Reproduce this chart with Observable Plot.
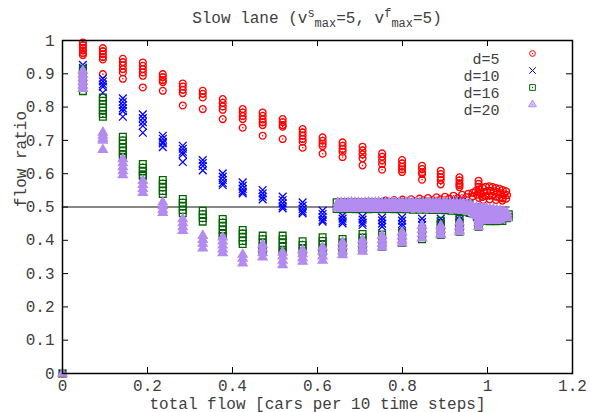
<!DOCTYPE html>
<html><head><meta charset="utf-8">
<script src="https://cdn.jsdelivr.net/npm/d3@7"></script>
<script src="https://cdn.jsdelivr.net/npm/@observablehq/plot@0.6"></script>
<style>
body{margin:0;background:#fff;}
#fig{position:relative;width:590px;height:412px;font-family:"Liberation Mono","DejaVu Sans Mono",monospace;color:#404040;}
#fig svg{position:absolute;left:0;top:0;z-index:1;}
#title{position:absolute;left:62px;width:510px;top:9px;text-align:center;font-size:16px;line-height:20px;white-space:nowrap;z-index:2;}
#title sup,#title sub{font-size:12px;line-height:0;}
</style></head><body>
<div id="fig"><div id="title">Slow lane (v<sup>s</sup><sub>max</sub>=5, v<sup>f</sup><sub>max</sub>=5)</div></div>
<script>
const xTicks = [0, 0.2, 0.4, 0.6, 0.8, 1, 1.2];
const yTicks = [0, 0.1, 0.2, 0.3, 0.4, 0.5, 0.6, 0.7, 0.8, 0.9, 1];
const xLabel = "total flow [cars per 10 time steps]";
const yLabel = "flow ratio";
const seriesNames = ["d=5", "d=10", "d=16", "d=20"];
const refX = [0, 1.05];
const refY = [0.5, 0.5];
const origin = [0, 0];
const colX = [0.048, 0.095, 0.142, 0.189, 0.236, 0.283, 0.330, 0.377, 0.424, 0.471, 0.518, 0.565, 0.612, 0.659, 0.706, 0.752, 0.799, 0.846, 0.890, 0.934, 0.979];

const d5Cols = [
[0.994,0.986,0.978,0.970,0.962,0.956],
[0.977,0.968,0.959,0.950,0.943,0.899],
[0.945,0.935,0.925,0.914,0.904,0.885],
[0.934,0.924,0.914,0.904,0.894,0.859],
[0.899,0.890,0.881,0.875,0.849],
[0.871,0.862,0.852,0.842,0.805],
[0.849,0.840,0.829,0.794],
[0.824,0.813,0.802,0.792,0.764],
[0.794,0.784,0.773,0.764,0.738],
[0.784,0.774,0.763,0.754,0.746,0.714],
[0.764,0.755,0.746,0.741,0.704],
[0.734,0.724,0.714,0.704,0.696,0.678],
[0.709,0.699,0.690,0.683,0.660],
[0.694,0.684,0.674,0.666,0.650],
[0.681,0.670,0.658,0.646,0.625],
[0.661,0.651,0.640,0.629,0.612],
[0.641,0.631,0.621,0.613,0.605],
[0.624,0.614,0.604,0.599,0.582],
[0.609,0.599,0.589,0.581,0.568],
[0.589,0.580,0.571,0.566,0.560],
[0.579,0.570,0.561,0.545]
];
const d10Cols = [
[0.927,0.918],
[0.886,0.877,0.868,0.861,0.843],
[0.826,0.816,0.806,0.796,0.788,0.771],
[0.778,0.767,0.755,0.744,0.723],
[0.714,0.705,0.696,0.691,0.680],
[0.684,0.675,0.666,0.659,0.635],
[0.641,0.632,0.623,0.610],
[0.601,0.591,0.581,0.572,0.566],
[0.574,0.564,0.554,0.546,0.541],
[0.551,0.541,0.531,0.523],
[0.531,0.521,0.511,0.502,0.496],
[0.514,0.504,0.494,0.486,0.481],
[0.489,0.479,0.469,0.461,0.456],
[0.474,0.465,0.457,0.451],
[0.471,0.462,0.453,0.446],
[0.469,0.460,0.450,0.441],
[0.469,0.459,0.449,0.441],
[0.465,0.455,0.446],
[0.465,0.456,0.447],
[0.471,0.462,0.453],
[0.470,0.460]
];
const d16Cols = [
[0.914,0.903,0.892,0.880,0.869,0.858,0.848],
[0.829,0.819,0.809,0.799,0.789,0.779,0.771],
[0.711,0.700,0.690,0.679,0.668,0.658,0.651],
[0.629,0.618,0.607,0.597,0.593],
[0.581,0.570,0.559,0.548,0.539],
[0.524,0.513,0.502,0.491,0.481],
[0.489,0.478,0.467,0.456],
[0.464,0.453,0.442,0.431,0.420,0.413],
[0.431,0.420,0.409,0.398,0.389],
[0.414,0.403,0.392,0.381,0.371,0.366],
[0.414,0.403,0.392,0.381,0.371,0.366],
[0.397,0.386,0.375,0.366],
[0.409,0.398,0.387,0.376,0.366],
[0.404,0.393,0.382,0.372,0.366],
[0.419,0.408,0.397,0.386,0.374],
[0.417,0.406,0.395,0.385,0.381],
[0.424,0.413,0.402,0.392],
[0.434,0.423,0.412,0.403],
[0.459,0.448,0.437,0.426,0.416],
[0.465,0.454,0.443,0.432,0.426],
[0.469,0.458,0.447,0.441]
];
const d20Cols = [
[0.909,0.898,0.887,0.876,0.865,0.855],
[0.724,0.715,0.706,0.700,0.672],
[0.644,0.632,0.620,0.608,0.596],
[0.579,0.567,0.555,0.543],
[0.514,0.503,0.492,0.483],
[0.464,0.452,0.440,0.429],
[0.414,0.402,0.390,0.376],
[0.409,0.397,0.385,0.373,0.362],
[0.357,0.345,0.331],
[0.387,0.375,0.362,0.349],
[0.364,0.352,0.339,0.326],
[0.371,0.359,0.347,0.336],
[0.379,0.366,0.352,0.339],
[0.394,0.381,0.368,0.356],
[0.401,0.389,0.377,0.366],
[0.414,0.402,0.390,0.379],
[0.424,0.412,0.400,0.391],
[0.444,0.432,0.419,0.406],
[0.444,0.432,0.420,0.416],
[0.454,0.442,0.431,0.426],
[0.464,0.453,0.441]
];

// dense high-flow band (x, y pairs)
const d5Band = [
[0.650,0.505],[0.670,0.507],[0.690,0.508],[0.710,0.509],[0.730,0.511],[0.750,0.512],[0.770,0.514],[0.790,0.515],
[0.810,0.516],[0.830,0.518],[0.850,0.520],[0.870,0.521],[0.890,0.523],[0.910,0.525],[0.930,0.527],[0.950,0.529],
[0.965,0.532],[0.760,0.519],[0.780,0.521],[0.800,0.522],[0.820,0.523],[0.840,0.525],[0.860,0.527],[0.880,0.529],
[0.900,0.531],[0.920,0.534],[0.940,0.537],[0.955,0.540],[0.965,0.543],
[0.972,0.548],[0.980,0.553],[0.988,0.558],[0.996,0.561],[1.004,0.562],[1.012,0.560],[1.020,0.557],[1.028,0.555],
[1.036,0.551],[1.044,0.547],
[0.975,0.537],[0.983,0.541],[0.991,0.545],[0.999,0.548],[1.007,0.549],[1.015,0.547],[1.023,0.545],[1.031,0.541],
[1.039,0.538],[1.046,0.536],
[0.980,0.527],[0.988,0.530],[0.996,0.533],[1.004,0.535],[1.012,0.534],[1.020,0.531],[1.028,0.528],[1.036,0.526],
[1.044,0.525],[0.990,0.521],[1.005,0.523],[1.020,0.521],[1.035,0.519]
];
const d10Band = [
[0.652,0.506],[0.655,0.494],[0.700,0.508],[0.750,0.510],[0.800,0.511],[0.850,0.512],[0.900,0.514],
[0.925,0.518],[0.940,0.516],[0.970,0.500],[0.990,0.490],[1.010,0.485]
];
const d16Band = [
[0.645,0.514],[0.660,0.515],[0.675,0.514],[0.690,0.515],[0.705,0.514],[0.720,0.515],[0.735,0.514],[0.750,0.515],
[0.765,0.514],[0.780,0.515],[0.795,0.514],[0.810,0.515],[0.825,0.514],[0.840,0.515],[0.855,0.514],[0.870,0.514],
[0.885,0.513],[0.900,0.513],[0.915,0.512],[0.930,0.511],[0.945,0.510],[0.958,0.508],
[0.645,0.494],[0.660,0.493],[0.675,0.494],[0.690,0.493],[0.705,0.494],[0.720,0.493],[0.735,0.494],[0.750,0.493],
[0.765,0.494],[0.780,0.493],[0.795,0.493],[0.810,0.493],[0.825,0.492],[0.840,0.492],[0.855,0.492],[0.870,0.491],
[0.885,0.491],[0.900,0.490],[0.915,0.489],[0.930,0.488],[0.945,0.486],[0.958,0.482],
[0.970,0.498],[0.985,0.485],[1.000,0.472],[1.015,0.464],[1.030,0.461],[1.045,0.466],[1.050,0.478],
[0.975,0.470],[0.990,0.459],[1.005,0.457],[1.020,0.457],[1.035,0.458],[1.050,0.469]
];
const d20Band = [
[0.648,0.513],[0.656,0.513],[0.664,0.512],[0.672,0.513],[0.680,0.514],[0.688,0.513],[0.696,0.513],[0.704,0.512],
[0.712,0.513],[0.720,0.514],[0.728,0.513],[0.736,0.513],[0.744,0.514],[0.752,0.512],[0.760,0.513],[0.768,0.513],
[0.776,0.514],[0.784,0.513],[0.792,0.513],[0.800,0.512],[0.808,0.513],[0.816,0.514],[0.824,0.513],[0.832,0.513],
[0.840,0.512],[0.848,0.513],[0.856,0.513],[0.864,0.514],[0.872,0.513],[0.880,0.512],[0.888,0.512],[0.896,0.513],
[0.904,0.512],[0.912,0.512],[0.920,0.511],[0.928,0.511],[0.936,0.510],[0.944,0.509],[0.952,0.508],[0.960,0.507],
[0.648,0.504],[0.660,0.505],[0.672,0.504],[0.684,0.505],[0.696,0.504],[0.708,0.505],[0.720,0.504],[0.732,0.505],
[0.744,0.504],[0.756,0.505],[0.768,0.504],[0.780,0.505],[0.792,0.504],[0.804,0.505],[0.816,0.504],[0.828,0.504],
[0.840,0.503],[0.852,0.504],[0.864,0.503],[0.876,0.503],[0.888,0.502],[0.900,0.502],[0.912,0.501],[0.924,0.501],
[0.936,0.500],[0.948,0.499],[0.958,0.498],
[0.648,0.496],[0.656,0.495],[0.664,0.496],[0.672,0.496],[0.680,0.495],[0.688,0.496],[0.696,0.496],[0.704,0.495],
[0.712,0.496],[0.720,0.495],[0.728,0.496],[0.736,0.496],[0.744,0.495],[0.752,0.496],[0.760,0.495],[0.768,0.496],
[0.776,0.495],[0.784,0.495],[0.792,0.496],[0.800,0.495],[0.808,0.495],[0.816,0.494],[0.824,0.495],[0.832,0.494],
[0.840,0.494],[0.848,0.494],[0.856,0.494],[0.864,0.493],[0.872,0.493],[0.880,0.493],[0.888,0.493],[0.896,0.492],
[0.904,0.492],[0.912,0.492],[0.920,0.491],[0.928,0.491],[0.936,0.490],[0.944,0.489],[0.952,0.488],[0.960,0.486],
[0.966,0.500],[0.974,0.499],[0.982,0.498],[0.990,0.497],[0.998,0.496],[1.006,0.494],[1.014,0.493],[1.022,0.491],
[1.030,0.489],[1.038,0.486],[1.046,0.482],
[0.966,0.488],[0.974,0.486],[0.982,0.485],[0.990,0.484],[0.998,0.483],[1.006,0.482],[1.014,0.481],[1.022,0.480],
[1.030,0.479],[1.038,0.477],[1.046,0.474],
[0.968,0.476],[0.976,0.472],[0.984,0.469],[0.992,0.467],[1.000,0.466],[1.008,0.465],[1.016,0.465],[1.024,0.465],
[1.032,0.466],[1.040,0.467],[1.046,0.468],
[0.980,0.461],[0.990,0.460],[1.000,0.459],[1.010,0.459],[1.020,0.459],[1.030,0.460]
];

const colsBy = [d5Cols, d10Cols, d16Cols, d20Cols];
const bandBy = [d5Band, d10Band, d16Band, d20Band];
const rows = [];
seriesNames.forEach((name, i) => {
  rows.push({series: name, x: origin[0], y: origin[1]});
  colsBy[i].forEach((ys, k) => ys.forEach(y => rows.push({series: name, x: colX[k], y})));
  bandBy[i].forEach(([x, y]) => rows.push({series: name, x, y}));
});

const styles = [
  {color: "#ff0000", symbol: "circle", r: 3.4, sw: 1.3, fill: "none", center: true},
  {color: "#0000ff", symbol: "times", r: 3.6, sw: 1.3, fill: "none", center: false},
  {color: "#006400", symbol: "square", r: 3.8, sw: 1.3, fill: "none", center: true},
  {color: "#b48cf0", symbol: "triangle", r: 3.4, sw: 1.2, fill: "#b48cf0", center: false}
];

const W = 590, H = 412, mL = 62, mR = 18, mT = 40, mB = 39;
const innerW = W - mL - mR, innerH = H - mT - mB;

const seriesMarks = [];
seriesNames.forEach((name, i) => {
  const s = styles[i];
  const data = rows.filter(d => d.series === name);
  seriesMarks.push(Plot.dot(data, {x: "x", y: "y", symbol: () => s.symbol, r: s.r, stroke: s.color, fill: s.fill, strokeWidth: s.sw}));
  if (s.center) seriesMarks.push(Plot.dot(data, {x: "x", y: "y", r: 0.8, fill: s.color, stroke: "none"}));
});

const legendRow = 17, legendTop = 13;
const legendMarks = [];
seriesNames.forEach((name, i) => {
  const s = styles[i];
  const dy = legendTop + legendRow * i;
  legendMarks.push(Plot.text([name], {text: d => d, frameAnchor: "top-right", dx: -73, dy, textAnchor: "end", fontSize: 15}));
  legendMarks.push(Plot.dot([name], {frameAnchor: "top-right", dx: -40, dy, symbol: () => s.symbol, r: s.r * 0.85, stroke: s.color, fill: s.fill === "none" ? "none" : "#d8c4fa", strokeWidth: 1}));
  if (s.center || s.fill !== "none") legendMarks.push(Plot.dot([name], {frameAnchor: "top-right", dx: -40, dy, r: 0.7, fill: s.color, stroke: "none"}));
});

const chart = Plot.plot({
  width: W, height: H,
  marginLeft: mL, marginRight: mR, marginTop: mT, marginBottom: mB,
  style: {fontFamily: '"Liberation Mono","DejaVu Sans Mono",monospace', fontSize: "16px", color: "#404040", background: "transparent"},
  x: {domain: [0, 1.2]},
  y: {domain: [0, 1]},
  symbol: {type: "identity"},
  marks: [
    Plot.line(refX.map((x, i) => ({x, y: refY[i]})), {x: "x", y: "y", stroke: "#888888", strokeWidth: 2}),
    ...seriesMarks,
    Plot.tickX(xTicks, {x: d => d, insetTop: innerH - 6, stroke: "#000"}),
    Plot.tickX(xTicks, {x: d => d, insetBottom: innerH - 6, stroke: "#000"}),
    Plot.tickY(yTicks, {y: d => d, insetRight: innerW - 6, stroke: "#000"}),
    Plot.tickY(yTicks, {y: d => d, insetLeft: innerW - 6, stroke: "#000"}),
    Plot.axisX({ticks: xTicks, tickSize: 0, tickPadding: 6, tickFormat: d => String(d), label: null}),
    Plot.axisY({ticks: yTicks, tickSize: 0, tickPadding: 8, tickFormat: d => String(d), label: null}),
    Plot.frame({stroke: "#000", strokeWidth: 1.5}),
    Plot.text([xLabel], {text: d => d, frameAnchor: "bottom", dy: 35}),
    Plot.text([yLabel], {text: d => d, frameAnchor: "left", dx: -42, rotate: -90}),
    ...legendMarks
  ]
});
document.getElementById("fig").appendChild(chart);
</script>
</body></html>
